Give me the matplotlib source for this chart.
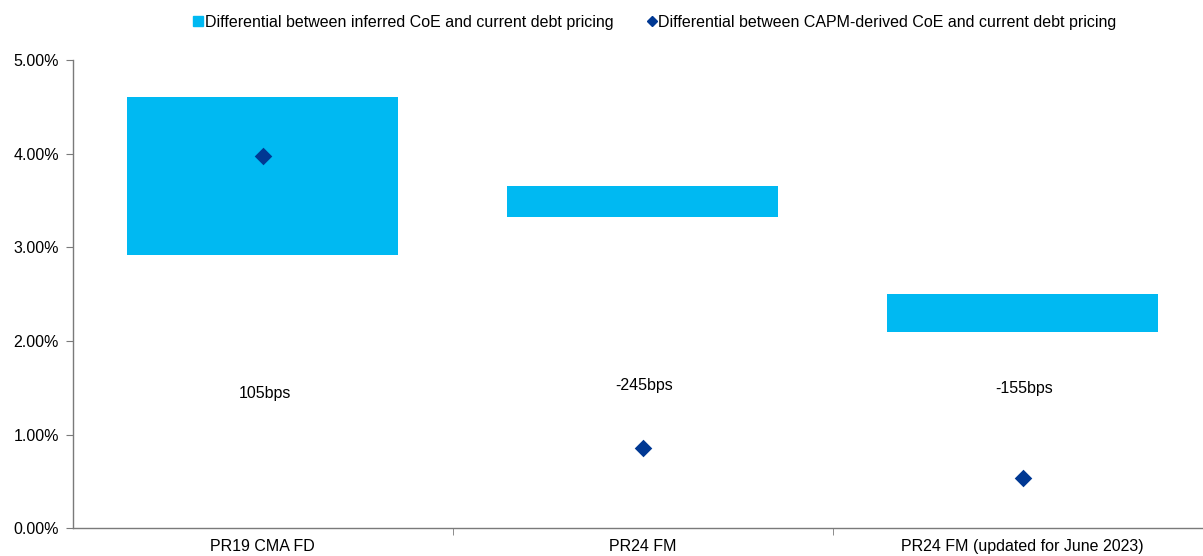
import numpy as np
import matplotlib.pyplot as plt
from matplotlib.lines import Line2D
from matplotlib.ticker import FuncFormatter

plt.rcParams['font.family'] = ['Liberation Sans', 'DejaVu Sans']
plt.rcParams['font.size'] = 11.5

# data (percent)
categories = ['PR19 CMA FD', 'PR24 FM', 'PR24 FM (updated for June 2023)']
range_low = [2.92, 3.32, 2.10]
range_high = [4.60, 3.65, 2.50]
capm_diff = [3.97, 0.86, 0.54]
bps_labels = ['105bps', '-245bps', '-155bps']
bps_label_y = [1.44, 1.52, 1.49]

bar_col = '#00B9F2'
dot_col = '#003893'
axis_col = '#7a7a7a'

fig = plt.figure(figsize=(12.03, 5.56), dpi=100)
# axes deliberately runs slightly past the right edge, like the original
ax = fig.add_axes([72.7/1203, 1 - 528.3/556, 1140/1203, (528.3-60)/556])

x = np.arange(len(categories))
heights = np.array(range_high) - np.array(range_low)
ax.bar(x, heights, bottom=range_low, width=0.713, color=bar_col, zorder=2)
ax.scatter(x, capm_diff, marker='D', s=80, color=dot_col, zorder=3, linewidths=0)

for xi, lab, ly in zip(x, bps_labels, bps_label_y):
    ax.text(xi + 0.005, ly, lab, ha='center', va='center')

ax.set_xlim(-0.5, 2.5)
ax.set_ylim(0, 5)
ax.set_yticks(np.arange(0, 5.01, 1))
ax.yaxis.set_major_formatter(FuncFormatter(lambda v, p: '%.2f%%' % v))
ax.set_xticks(x)
ax.set_xticklabels(categories)
ax.set_xticks([0.5, 1.5], minor=True)
ax.tick_params(axis='x', which='major', length=0, pad=8)
ax.tick_params(axis='x', which='minor', length=5, color=axis_col, direction='out')
ax.tick_params(axis='y', length=5, color=axis_col, direction='out', pad=5)

for s in ['top', 'right']:
    ax.spines[s].set_visible(False)
for s in ['left', 'bottom']:
    ax.spines[s].set_color(axis_col)
    ax.spines[s].set_linewidth(1.0)

handles = [
    Line2D([], [], marker='s', linestyle='none', color=bar_col, markersize=6.5),
    Line2D([], [], marker='D', linestyle='none', color=dot_col, markersize=5.5),
]
labels = ['Differential between inferred CoE and current debt pricing',
          'Differential between CAPM-derived CoE and current debt pricing']
fig.legend(handles, labels, loc='center', bbox_to_anchor=(654/1203, 1 - 22/556),
           ncol=2, frameon=False, handletextpad=0.0, columnspacing=2.0,
           handlelength=0.8)

fig.savefig('out.png', dpi=100)
